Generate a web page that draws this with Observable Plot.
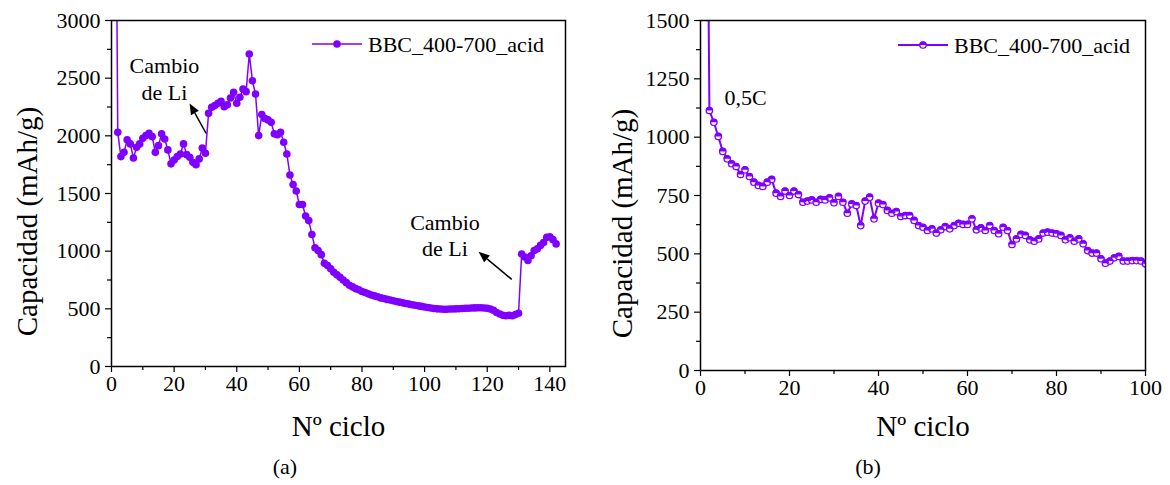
<!DOCTYPE html>
<html>
<head>
<meta charset="utf-8">
<script src="https://cdn.jsdelivr.net/npm/d3@7"></script>
<script src="https://cdn.jsdelivr.net/npm/@observablehq/plot@0.6"></script>
<style>
  body { margin: 0; background: #fff; font-family: "Liberation Serif", "Times New Roman", serif; }
  #wrap { position: relative; width: 1170px; height: 485px; }
  .panel { position: absolute; top: 0; }
  .cap { position: absolute; top: 455px; width: 570px; text-align: center; font-size: 22px; line-height: 24px; color: #000; }
</style>
</head>
<body>
<div id="wrap">
  <div id="panelA" class="panel" style="left:0px"></div>
  <div id="panelB" class="panel" style="left:585px"></div>
  <div class="cap" style="left:0px">(a)</div>
  <div class="cap" style="left:583px">(b)</div>
</div>
<script>
const seriesName = "BBC_400-700_acid";
const purple = "#8000ff";

// Panel (a): specific capacity per cycle, cycles 1–142
const cyclesA = d3.range(1, 143);
const capacityA = [
  6000, 2030, 1820, 1857, 1965, 1930, 1808, 1900, 1930, 1978,
  2002, 2022, 1993, 1857, 1915, 2017, 1973, 1878, 1757, 1791,
  1820, 1843, 1930, 1837, 1814, 1770, 1750, 1800, 1895, 1849,
  2195, 2247, 2262, 2282, 2299, 2253, 2270, 2328, 2377, 2282,
  2334, 2406, 2383, 2710, 2478, 2363, 2002, 2184, 2150, 2138,
  2117, 2017, 2010, 2030, 1944, 1843, 1660, 1577, 1522, 1404,
  1404, 1305, 1265, 1145, 1029, 1005, 970, 895, 875, 847,
  817, 795, 774, 750, 727, 705, 690, 675, 665, 650,
  641, 630, 620, 612, 605, 595, 590, 582, 576, 570,
  564, 558, 552, 546, 541, 536, 531, 526, 521, 516,
  511, 507, 503, 500, 498, 497, 497, 498, 499, 500,
  501, 503, 504, 505, 507, 508, 509, 509, 507, 504,
  498, 488, 468, 455, 445, 440, 443, 440, 450, 462,
  975, 950, 920, 960, 1005, 1020, 1050, 1075, 1120, 1125,
  1100, 1063
];

// Panel (b): specific capacity per cycle at 0,5C, cycles 1–100
const cyclesB = d3.range(1, 101);
const capacityB = [
  3500, 1114, 1064, 1003, 939, 907, 886, 874, 840, 860,
  831, 807, 793, 789, 807, 819, 760, 746, 769, 750,
  769, 754, 721, 726, 731, 721, 733, 731, 740, 719,
  746, 721, 674, 714, 707, 621, 726, 743, 650, 717,
  711, 686, 674, 681, 660, 664, 664, 643, 621, 614,
  600, 607, 589, 603, 617, 607, 621, 631, 626, 626,
  650, 603, 611, 600, 621, 600, 586, 614, 600, 540,
  564, 583, 579, 560, 554, 564, 589, 593, 589, 586,
  579, 560, 569, 554, 564, 543, 514, 503, 503, 479,
  460, 469, 483, 489, 469, 469, 471, 471, 469, 457
];

// Axis ticks
const xTicksA = [0, 20, 40, 60, 80, 100, 120, 140];
const xMinorA = [10, 30, 50, 70, 90, 110, 130];
const yTicksA = [0, 500, 1000, 1500, 2000, 2500, 3000];
const yMinorA = [250, 750, 1250, 1750, 2250, 2750];
const xTicksB = [0, 20, 40, 60, 80, 100];
const xMinorB = [10, 30, 50, 70, 90];
const yTicksB = [0, 250, 500, 750, 1000, 1250, 1500];
const yMinorB = [125, 375, 625, 875, 1125, 1375];

// Annotations
const notesA = [
  {x: 16.9, y: 2500, text: "Cambio\nde Li"},
  {x: 106.5, y: 1145, text: "Cambio\nde Li"}
];
const arrowsA = [
  {x1: 30.4, y1: 2016, x2: 25.1, y2: 2277},
  {x1: 128, y1: 751, x2: 117.4, y2: 990}
];
const notesB = [{x: 5.4, y: 1166, text: "0,5C"}];

const rowsA = cyclesA.map((c, i) => ({cycle: c, cap: capacityA[i]}));
const rowsB = cyclesB.map((c, i) => ({cycle: c, cap: capacityB[i]}));

// upper half of a circle, used for the half-filled markers
const halfTop = {
  draw(ctx, size) {
    const r = Math.sqrt(size / Math.PI);
    ctx.moveTo(-r, 0);
    ctx.arc(0, 0, r, Math.PI, 2 * Math.PI);
    ctx.closePath();
  }
};

const font = "'Liberation Serif', 'Times New Roman', serif";
const plain = d3.format("d");

// filled-head arrows drawn in data coordinates
function arrowMark(list) {
  return (index, scales) => {
    const g = d3.create("svg:g");
    for (const a of list) {
      const x1 = scales.x(a.x1), y1 = scales.y(a.y1);
      const x2 = scales.x(a.x2), y2 = scales.y(a.y2);
      const ang = Math.atan2(y2 - y1, x2 - x1);
      const L = 11, W = 4.5;
      const bx = x2 - L * Math.cos(ang), by = y2 - L * Math.sin(ang);
      g.append("line").attr("x1", x1).attr("y1", y1).attr("x2", bx).attr("y2", by)
        .attr("stroke", "black").attr("stroke-width", 1.5);
      const px = -Math.sin(ang) * W, py = Math.cos(ang) * W;
      g.append("path")
        .attr("d", `M${x2},${y2}L${bx + px},${by + py}L${bx - px},${by - py}Z`)
        .attr("fill", "black");
    }
    return g.node();
  };
}

// legend sample placed relative to the frame's top-left corner
function legendMark(dx, dy, half) {
  return (index, scales, values, dim) => {
    const g = d3.create("svg:g");
    const x0 = dim.marginLeft + dx, y0 = dim.marginTop + dy;
    g.append("line").attr("x1", x0).attr("x2", x0 + 50).attr("y1", y0).attr("y2", y0)
      .attr("stroke", purple).attr("stroke-width", half ? 2 : 1.5);
    if (half) {
      g.append("circle").attr("cx", x0 + 25).attr("cy", y0).attr("r", 3.2)
        .attr("fill", "white").attr("stroke", purple).attr("stroke-width", 1.3);
      g.append("path").attr("d", d3.symbol(halfTop, Math.PI * 3.6 * 3.6)()).attr("transform", `translate(${x0 + 25},${y0})`)
        .attr("fill", purple);
    } else {
      g.append("circle").attr("cx", x0 + 25).attr("cy", y0).attr("r", 3.8).attr("fill", purple);
    }
    g.append("text").attr("x", x0 + 56).attr("y", y0).attr("dy", "0.35em")
      .attr("text-anchor", "start")
      .attr("font-size", 22).attr("font-family", font).attr("fill", "black")
      .text(seriesName);
    return g.node();
  };
}

function axes(xt, xm, yt, ym) {
  return [
    Plot.axisX(xt, {tickSize: 6, tickPadding: 3, fontSize: 22, tickFormat: plain, label: null, strokeWidth: 1.2}),
    Plot.axisX(xm, {tickSize: 4, tickFormat: () => "", label: null, strokeWidth: 1.2}),
    Plot.axisY(yt, {tickSize: 6, tickPadding: 5, fontSize: 22, tickFormat: plain, label: null, strokeWidth: 1.2}),
    Plot.axisY(ym, {tickSize: 4, tickFormat: () => "", label: null, strokeWidth: 1.2})
  ];
}

const chartA = Plot.plot({
  width: 585, height: 440,
  marginLeft: 111, marginRight: 20, marginTop: 20, marginBottom: 74,
  style: {fontFamily: font, fontSize: "22px", color: "black", background: "white", overflow: "visible"},
  x: {domain: [0, 145]},
  y: {domain: [0, 3000]},
  marks: [
    ...axes(xTicksA, xMinorA, yTicksA, yMinorA),
    Plot.line(rowsA, {x: "cycle", y: "cap", stroke: purple, strokeWidth: 1.5, clip: true}),
    Plot.dot(rowsA, {x: "cycle", y: "cap", r: 3.8, fill: purple, clip: true}),
    Plot.text(notesA, {x: "x", y: "y", text: "text", fontSize: 22, lineHeight: 1.22, fill: "black"}),
    arrowMark(arrowsA),
    legendMark(201, 24, false),
    Plot.frame({stroke: "black", strokeWidth: 1.5}),
    Plot.text(["Nº ciclo"], {frameAnchor: "bottom", dy: 69, fontSize: 29, fill: "black"}),
    Plot.text(["Capacidad (mAh/g)"], {frameAnchor: "left", textAnchor: "middle", dx: -84, dy: 28, rotate: -90, fontSize: 29, fill: "black"})
  ]
});

const chartB = Plot.plot({
  width: 585, height: 440,
  marginLeft: 115, marginRight: 25, marginTop: 20, marginBottom: 70,
  style: {fontFamily: font, fontSize: "22px", color: "black", background: "white", overflow: "visible"},
  x: {domain: [0, 100]},
  y: {domain: [0, 1500]},
  marks: [
    ...axes(xTicksB, xMinorB, yTicksB, yMinorB),
    Plot.line(rowsB, {x: "cycle", y: "cap", stroke: purple, strokeWidth: 2, clip: true}),
    Plot.dot(rowsB, {x: "cycle", y: "cap", r: 3.2, fill: "white", stroke: purple, strokeWidth: 1.3, clip: true}),
    Plot.dot(rowsB, {x: "cycle", y: "cap", r: 3.6, symbol: halfTop, fill: purple, clip: true}),
    Plot.text(notesB, {x: "x", y: "y", text: "text", fontSize: 22, textAnchor: "start", fill: "black"}),
    legendMark(198, 25, true),
    Plot.frame({stroke: "black", strokeWidth: 1.5}),
    Plot.text(["Nº ciclo"], {frameAnchor: "bottom", dy: 65, fontSize: 29, fill: "black"}),
    Plot.text(["Capacidad (mAh/g)"], {frameAnchor: "left", textAnchor: "middle", dx: -78, dy: 28, rotate: -90, fontSize: 29, fill: "black"})
  ]
});

document.getElementById("panelA").append(chartA);
document.getElementById("panelB").append(chartB);
</script>
</body>
</html>
